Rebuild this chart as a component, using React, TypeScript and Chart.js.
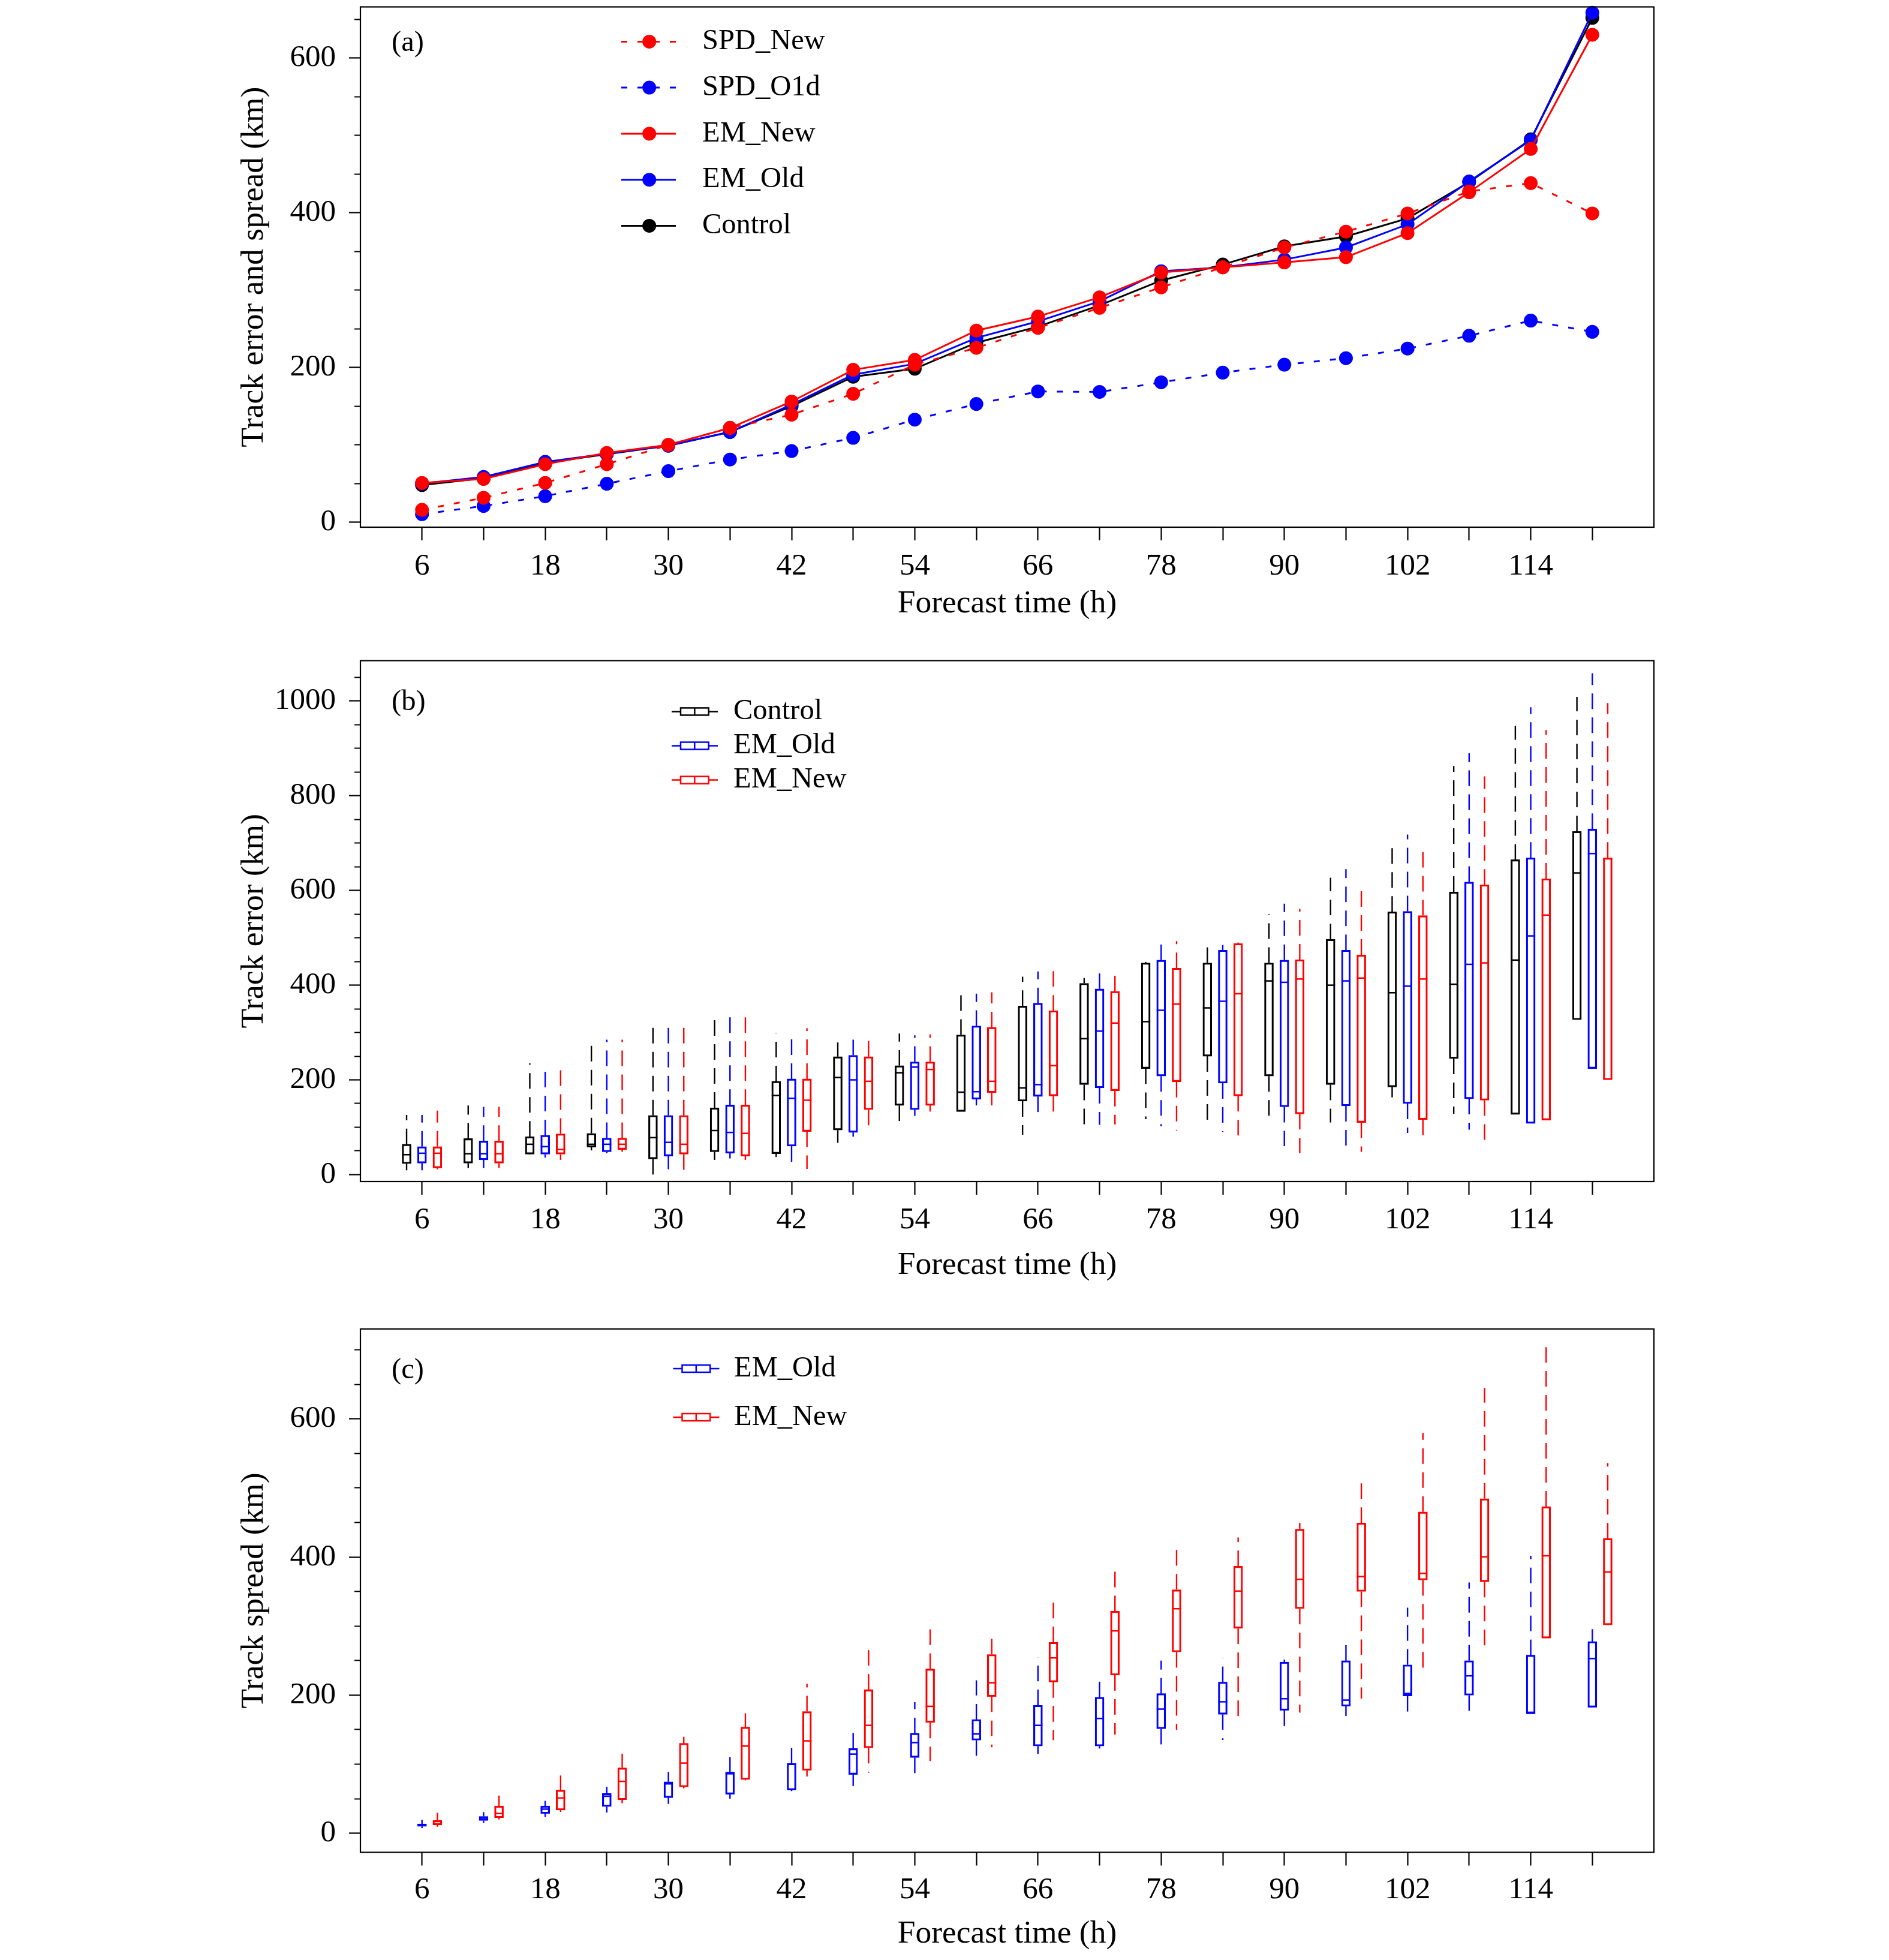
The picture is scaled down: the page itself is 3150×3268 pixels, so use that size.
import React, { useEffect, useRef } from 'react';
import { Chart, registerables } from 'chart.js';

Chart.register(...registerables);

// ---------------- data ----------------
const hours = [6, 12, 18, 24, 30, 36, 42, 48, 54, 60, 66, 72, 78, 84, 90, 96, 102, 108, 114, 120];
const xTickLabels = ['6', '18', '30', '42', '54', '66', '78', '90', '102', '114'];

// panel (a): track error / spread (km)
const spdNew = [16, 31.6, 50.8, 75, 100, 122, 139, 166, 203.6, 225.4, 251.3, 277, 303.6, 329.5, 355, 375.6, 399, 427.5, 438.3, 399];
const spdOld = [10.4, 21, 33.7, 49.7, 66, 81, 92, 109, 132.6, 152.8, 169, 168.4, 180.8, 193.3, 203.6, 212, 224.4, 241, 260.6, 246];
const emNew = [50.8, 56, 75, 89.6, 100, 121.8, 156, 197, 209.8, 247.7, 265.8, 290.7, 322.8, 329.5, 335.8, 342.5, 373.6, 426.4, 482.4, 630];
const emOld = [50, 58.5, 78, 88.6, 99, 116.6, 152, 190.7, 204.7, 238.3, 259.6, 285.5, 324.4, 329.5, 339.4, 355, 385, 440.4, 493.8, 658.5];
const control = [48, 57, 76.7, 88, 99, 116.6, 150, 188, 198.4, 232, 252.8, 280.3, 312.4, 333, 356.5, 369.4, 392.7, 439.4, 494.8, 651.8];
const yLabelsA = [0, 200, 400, 600];

// panel (b): track error boxes [min, q1, median, q3, max]
const errControl = [
  [9, 23, 42, 64, 126], [14, 24, 44, 76, 146], [42, 43, 64, 80, 235], [51, 58, 64, 87, 274],
  [0, 33, 78, 125, 325], [31, 48, 93, 141, 333], [37, 44, 167, 197, 299], [67, 94, 205, 249, 279],
  [99, 146, 215, 230, 298], [133, 133, 174, 295, 391], [84, 155, 183, 356, 418], [105, 190, 287, 404, 415],
  [117, 224, 323, 447, 449], [113, 250, 352, 447, 480], [113, 208, 409, 447, 550], [110, 190, 400, 497, 627],
  [163, 185, 384, 555, 691], [128, 245, 402, 597, 863], [127, 127, 453, 665, 948], [327, 327, 637, 725, 1009],
];
const errOld = [
  [9, 24, 45, 59, 126], [14, 31, 44, 71, 143], [36, 43, 59, 83, 235], [45, 48, 64, 77, 285],
  [11, 39, 68, 125, 316], [34, 45, 89, 147, 333], [12, 60, 161, 202, 299], [80, 89, 200, 252, 292],
  [124, 137, 227, 238, 294], [146, 159, 175, 314, 382], [122, 165, 190, 362, 429], [105, 183, 303, 392, 430],
  [102, 208, 347, 453, 486], [90, 193, 366, 474, 485], [60, 143, 406, 453, 572], [51, 145, 409, 474, 645],
  [88, 150, 398, 556, 718], [95, 160, 444, 618, 890], [108, 108, 504, 669, 987], [224, 224, 678, 730, 1059],
];
const errNew = [
  [11, 14, 45, 59, 135], [14, 24, 44, 71, 143], [31, 43, 53, 86, 235], [48, 53, 64, 77, 285],
  [7, 43, 64, 125, 325], [31, 39, 87, 147, 333], [12, 91, 157, 202, 309], [88, 137, 197, 249, 292],
  [133, 146, 222, 238, 296], [146, 173, 197, 311, 385], [128, 166, 230, 346, 433], [106, 177, 320, 387, 434],
  [93, 196, 360, 436, 493], [73, 166, 382, 488, 490], [45, 128, 413, 454, 561], [48, 110, 415, 464, 608],
  [77, 116, 413, 547, 681], [62, 157, 447, 612, 841], [115, 115, 548, 625, 939], [200, 200, 667, 669, 996],
];
const yLabelsB = [0, 200, 400, 600, 800, 1000];

// panel (c): track spread boxes [min, q1, median, q3, max]
const sprOld = [
  [7.5, 10, 12, 13.5, 19.5], [15, 18.5, 22, 24.5, 30.6], [23.5, 28.6, 35, 39.6, 47], [30, 38.6, 53.6, 57.6, 67.1],
  [42.6, 51.6, 71.6, 74.6, 88.7], [50.1, 56.6, 86.2, 88.7, 110.2], [61.1, 62.6, 100, 101.2, 133.8], [68.6, 85.2, 114.7, 122.7, 156.3],
  [84.7, 109.7, 131.3, 144.8, 189.9], [104.7, 134.8, 143.8, 164.8, 221.4], [114.7, 126.3, 156.3, 185.4, 255], [122.7, 126.3, 166.3, 196.9, 228],
  [123.7, 151.3, 179.9, 202.4, 250], [135.3, 172.3, 190.4, 218.9, 254], [152.8, 177.9, 194.9, 248, 251.5], [169.8, 183.9, 192.9, 250, 282.6],
  [172.3, 198.9, 202.4, 244, 326.7], [172.3, 199.9, 228, 250, 363.2], [173.8, 173.8, 173.8, 258, 401.8], [182.4, 182.4, 253, 277.6, 295.6],
];
const sprNew = [
  [9.5, 12, 13.5, 18.5, 29.6], [20, 22.5, 28.6, 39.6, 54.6], [31, 33.6, 51.1, 62.6, 83.7], [43.6, 48.6, 75.2, 94.7, 115.2],
  [65.1, 67.1, 101.7, 130.3, 139.8], [76.7, 77.7, 126.3, 153.8, 173.8], [82.2, 91.2, 133.8, 176.4, 216.4], [87.7, 123.7, 156.3, 207.9, 266.5],
  [104.7, 160.3, 183.9, 238, 307.6], [124.7, 197.9, 217.9, 259, 289.1], [134.8, 218.9, 254, 276.6, 335.7], [142.8, 229, 293.1, 321.6, 380.8],
  [149.8, 262.5, 325.2, 352.7, 411.8], [163.8, 296.6, 350.7, 386.8, 428.4], [174.8, 325.2, 367.7, 440.4, 449.4], [194.9, 350.2, 371.7, 449.4, 515.5],
  [229, 366.7, 376.3, 465.4, 579.7], [263, 364.2, 400.3, 484.5, 644.8], [282.6, 282.6, 401.8, 473, 703.9], [301.6, 301.6, 378.3, 426.9, 536],
];
const yLabelsC = [0, 200, 400, 600];

// ---------------- styling / layout ----------------
const W = 3150;
const FONT_FAMILY = '"Liberation Serif", "Times New Roman", Times, serif';
const FS_TICK = 51;
const FS_TITLE = 53.5;
const FS_LEG = 48.5;
const RED = '#ff0000';
const BLUE = '#0000ff';
const BLACK = '#000000';
const AREA_LEFT = 601;
const AREA_RIGHT = 2758;
const BOX_W = 15;

interface Geom {
  top: number; height: number; areaTop: number; areaBottom: number;
  yMin: number; yMax: number; yMinorMax: number; yLabels: number[];
  labelPad: number; titlePad: number; yTitle: string;
}

const geomA: Geom = { top: 0, height: 1060, areaTop: 5.5, areaBottom: 879, yMin: -6.4, yMax: 666, yMinorMax: 650, yLabels: yLabelsA, labelPad: 12.9, titlePad: 20.9, yTitle: 'Track error and spread (km)' };
const geomB: Geom = { top: 1060, height: 1130, areaTop: 1101.5, areaBottom: 1970, yMin: -14.7, yMax: 1085.5, yMinorMax: 1050, yLabels: yLabelsB, labelPad: 11.7, titlePad: 47.9, yTitle: 'Track error (km)' };
const geomC: Geom = { top: 2190, height: 1078, areaTop: 2215.8, areaBottom: 3088.5, yMin: -27.6, yMax: 730.3, yMinorMax: 700, yLabels: yLabelsC, labelPad: 10.6, titlePad: 10.9, yTitle: 'Track spread (km)' };

function baseOptions(g: Geom): any {
  const tickFont = { family: FONT_FAMILY, size: FS_TICK };
  const titleFont = { family: FONT_FAMILY, size: FS_TITLE };
  return {
    responsive: false,
    animation: false,
    devicePixelRatio: 1,
    events: [],
    layout: { padding: { left: 0, right: W - AREA_RIGHT, top: g.areaTop - g.top, bottom: 0 } },
    plugins: { legend: { display: false }, tooltip: { enabled: false }, title: { display: false } },
    scales: {
      x: {
        type: 'linear', min: 0, max: 126, offset: false, bounds: 'data',
        afterBuildTicks: (s: any) => { s.ticks = hours.map((v) => ({ value: v })); },
        afterFit: (s: any) => { s.height = g.top + g.height - g.areaBottom; s.paddingLeft = 0; s.paddingRight = 0; },
        ticks: {
          autoSkip: false, maxRotation: 0, minRotation: 0, padding: g.labelPad, font: tickFont, color: BLACK,
          callback: (v: any) => (xTickLabels.includes(String(v)) ? String(v) : ''),
        },
        grid: { display: true, drawOnChartArea: false, drawTicks: true, tickLength: 22, tickWidth: 2.2, tickColor: BLACK, offset: false },
        border: { display: false },
        title: { display: true, text: 'Forecast time (h)', font: titleFont, color: BLACK, padding: { top: 0, bottom: g.titlePad } },
      },
      y: {
        type: 'linear', min: g.yMin, max: g.yMax, bounds: 'data',
        afterBuildTicks: (s: any) => {
          const t: any[] = [];
          for (let v = 0; v <= g.yMinorMax; v += 50) t.push({ value: v });
          s.ticks = t;
        },
        afterFit: (s: any) => { s.width = AREA_LEFT; s.paddingTop = 0; s.paddingBottom = 0; },
        ticks: {
          autoSkip: false, padding: 22, font: tickFont, color: BLACK,
          callback: (v: any) => (g.yLabels.includes(Number(v)) ? String(v) : ''),
        },
        grid: {
          display: true, drawOnChartArea: false, drawTicks: true, tickLength: 19, tickWidth: 2.2, tickColor: BLACK,
          tickBorderDash: (ctx: any) => (ctx.tick && g.yLabels.includes(ctx.tick.value) ? [] : [0, 9, 10, 300]),
        },
        border: { display: false },
        title: { display: true, text: g.yTitle, font: titleFont, color: BLACK, padding: { top: 391.6, bottom: 0 } },
      },
    },
  };
}

const framePlugin = {
  id: 'frame',
  afterDraw(chart: any) {
    const { ctx, chartArea: a } = chart;
    ctx.save();
    ctx.strokeStyle = BLACK;
    ctx.lineWidth = 2.2;
    ctx.setLineDash([]);
    ctx.strokeRect(a.left, a.top, a.right - a.left, a.bottom - a.top);
    ctx.restore();
  },
};

function panelLabel(text: string, y: number) {
  return {
    id: 'panelLabel' + text,
    afterDraw(chart: any) {
      const ctx = chart.ctx;
      ctx.save();
      ctx.font = `${FS_LEG}px ${FONT_FAMILY}`;
      ctx.fillStyle = BLACK;
      ctx.textAlign = 'left';
      ctx.textBaseline = 'middle';
      ctx.fillText(text, 653, y);
      ctx.restore();
    },
  };
}

// ---------------- panel (a) ----------------
const legendA = [
  { label: 'SPD_New', color: RED, dashed: true },
  { label: 'SPD_O1d', color: BLUE, dashed: true },
  { label: 'EM_New', color: RED, dashed: false },
  { label: 'EM_Old', color: BLUE, dashed: false },
  { label: 'Control', color: BLACK, dashed: false },
];
const legendARows = [69.4, 146.1, 222.9, 299.7, 376.4];

const lineLegendPlugin = {
  id: 'lineLegend',
  afterDraw(chart: any) {
    const ctx = chart.ctx;
    ctx.save();
    ctx.font = `${FS_LEG}px ${FONT_FAMILY}`;
    ctx.textAlign = 'left';
    ctx.textBaseline = 'middle';
    legendA.forEach((it, k) => {
      const y = legendARows[k];
      ctx.strokeStyle = it.color;
      ctx.lineWidth = 3;
      ctx.setLineDash(it.dashed ? [10, 17] : []);
      ctx.beginPath();
      ctx.moveTo(1036, y);
      ctx.lineTo(1127, y);
      ctx.stroke();
      ctx.setLineDash([]);
      ctx.fillStyle = it.color;
      ctx.beginPath();
      ctx.arc(1082.7, y, 11.5, 0, Math.PI * 2);
      ctx.fill();
      ctx.fillStyle = BLACK;
      ctx.fillText(it.label, 1171, y);
    });
    ctx.restore();
  },
};

function buildA(): any {
  const mk = (label: string, values: number[], color: string, dashed: boolean, order: number) => ({
    type: 'line',
    label,
    data: hours.map((h, i) => ({ x: h, y: values[i] })),
    borderColor: color,
    backgroundColor: color,
    pointBackgroundColor: color,
    pointBorderColor: color,
    pointBorderWidth: 0,
    pointRadius: 11.5,
    pointHoverRadius: 11.5,
    borderWidth: 3,
    borderDash: dashed ? [10, 17] : [],
    tension: 0,
    fill: false,
    order,
    clip: false,
  });
  return {
    type: 'line',
    data: {
      datasets: [
        mk('SPD_New', spdNew, RED, true, 1),
        mk('SPD_O1d', spdOld, BLUE, true, 3),
        mk('EM_New', emNew, RED, false, 2),
        mk('EM_Old', emOld, BLUE, false, 4),
        mk('Control', control, BLACK, false, 5),
      ],
    },
    options: baseOptions(geomA),
    plugins: [framePlugin, lineLegendPlugin, panelLabel('(a)', 72)],
  };
}

// ---------------- box panels ----------------
interface BoxSeries { label: string; stats: number[][]; color: string; offset: number; }

function boxDatasets(series: BoxSeries[]) {
  return series.map((s) => ({
    type: 'bar',
    label: s.label,
    data: s.stats.map((st, i) => ({ x: hours[i] + s.offset, y: [st[1], st[3]] })),
    backgroundColor: 'rgba(255,255,255,0)',
    borderColor: s.color,
    borderWidth: 2.5,
    borderSkipped: false,
    borderRadius: 0,
    barThickness: BOX_W,
    grouped: false,
    clip: false,
  }));
}

function whiskerPlugin(series: BoxSeries[]) {
  return {
    id: 'whiskers',
    afterDatasetsDraw(chart: any) {
      const { ctx } = chart;
      const x = chart.scales.x;
      const y = chart.scales.y;
      const half = BOX_W / 2;
      ctx.save();
      ctx.lineCap = 'butt';
      series.forEach((s) => {
        ctx.strokeStyle = s.color;
        s.stats.forEach((st, i) => {
          const cx = x.getPixelForValue(hours[i] + s.offset);
          const pMin = y.getPixelForValue(st[0]);
          const pQ1 = y.getPixelForValue(st[1]);
          const pMed = y.getPixelForValue(st[2]);
          const pQ3 = y.getPixelForValue(st[3]);
          const pMax = y.getPixelForValue(st[4]);
          ctx.lineWidth = 2.4;
          ctx.setLineDash([26, 14]);
          if (pQ3 - pMax > 0.5) {
            ctx.beginPath();
            ctx.moveTo(cx, pQ3);
            ctx.lineTo(cx, pMax);
            ctx.stroke();
          }
          if (pMin - pQ1 > 0.5) {
            ctx.beginPath();
            ctx.moveTo(cx, pQ1);
            ctx.lineTo(cx, pMin);
            ctx.stroke();
          }
          ctx.setLineDash([]);
          ctx.lineWidth = 2.5;
          ctx.beginPath();
          ctx.moveTo(cx - half, pMed);
          ctx.lineTo(cx + half, pMed);
          ctx.stroke();
        });
      });
      ctx.restore();
    },
  };
}

function boxLegendPlugin(items: { label: string; color: string }[], rows: number[], shift: number, textX: number) {
  return {
    id: 'boxLegend',
    afterDraw(chart: any) {
      const ctx = chart.ctx;
      const x0 = 1120 + shift, x1 = 1197 + shift;
      const b0 = 1135 + shift, b1 = 1181.7 + shift;
      ctx.save();
      ctx.font = `${FS_LEG}px ${FONT_FAMILY}`;
      ctx.textAlign = 'left';
      ctx.textBaseline = 'middle';
      items.forEach((it, k) => {
        const y = rows[k];
        ctx.strokeStyle = it.color;
        ctx.lineWidth = 2.5;
        ctx.setLineDash([]);
        ctx.beginPath();
        ctx.moveTo(x0, y); ctx.lineTo(b0, y);
        ctx.moveTo(b1, y); ctx.lineTo(x1, y);
        ctx.stroke();
        ctx.strokeRect(b0, y - 6, b1 - b0, 12);
        ctx.beginPath();
        ctx.moveTo((b0 + b1) / 2, y - 6); ctx.lineTo((b0 + b1) / 2, y + 6);
        ctx.stroke();
        ctx.fillStyle = BLACK;
        ctx.fillText(it.label, textX, y);
      });
      ctx.restore();
    },
  };
}

function buildB(): any {
  const series: BoxSeries[] = [
    { label: 'Control', stats: errControl, color: BLACK, offset: -1.5 },
    { label: 'EM_Old', stats: errOld, color: BLUE, offset: 0 },
    { label: 'EM_New', stats: errNew, color: RED, offset: 1.5 },
  ];
  return {
    type: 'bar',
    data: { datasets: boxDatasets(series) },
    options: baseOptions(geomB),
    plugins: [
      whiskerPlugin(series),
      framePlugin,
      boxLegendPlugin(series, [126.4, 183.5, 240.6], 0, 1223),
      panelLabel('(b)', 111),
    ],
  };
}

function buildC(): any {
  const series: BoxSeries[] = [
    { label: 'EM_Old', stats: sprOld, color: BLUE, offset: 0 },
    { label: 'EM_New', stats: sprNew, color: RED, offset: 1.5 },
  ];
  return {
    type: 'bar',
    data: { datasets: boxDatasets(series) },
    options: baseOptions(geomC),
    plugins: [
      whiskerPlugin(series),
      framePlugin,
      boxLegendPlugin(series, [92, 173], 2.5, 1224),
      panelLabel('(c)', 95),
    ],
  };
}

function ChartCanvas({ top, height, build }: { top: number; height: number; build: () => any }) {
  const ref = useRef<HTMLCanvasElement>(null);
  useEffect(() => {
    if (!ref.current) return;
    const chart = new Chart(ref.current, build());
    return () => chart.destroy();
  }, []);
  return (
    <canvas
      ref={ref}
      width={W}
      height={height}
      style={{ position: 'absolute', left: 0, top, width: W, height, display: 'block' }}
    />
  );
}

export default function App() {
  useEffect(() => {
    document.body.style.margin = '0';
    document.body.style.overflow = 'hidden';
  }, []);
  return (
    <div style={{ position: 'absolute', left: 0, top: 0, width: 3150, height: 3268, overflow: 'hidden', background: '#ffffff' }}>
      <ChartCanvas top={geomA.top} height={geomA.height} build={buildA} />
      <ChartCanvas top={geomB.top} height={geomB.height} build={buildB} />
      <ChartCanvas top={geomC.top} height={geomC.height} build={buildC} />
    </div>
  );
}
